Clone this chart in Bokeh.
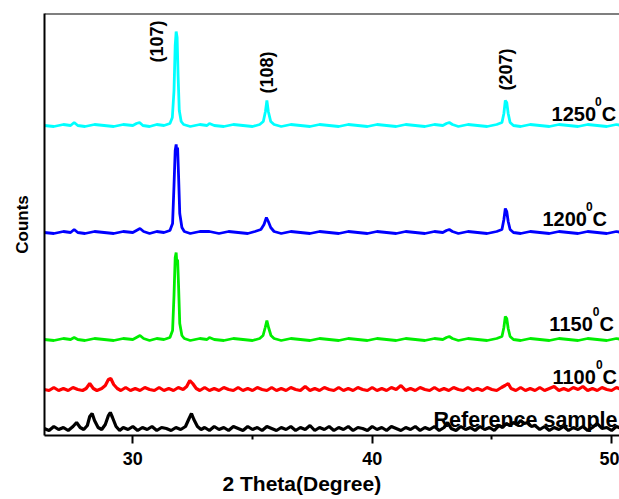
from bokeh.plotting import figure
from bokeh.models import Range1d, FixedTicker, Title, Span
from bokeh.core.properties import value
from bokeh.embed import file_html
from bokeh.resources import INLINE
import math

# ---------------- data (offset-stacked counts) ----------------
s1250 = [(26.3,310),(26.7,309),(27.1,311),(27.4,310),(27.55,313),(27.7,310),(28.0,309),(28.4,311),(28.8,310),(29.2,309),(29.6,311),(30.0,310),(30.15,312),(30.28,313),(30.42,310),(30.7,309),(31.0,311),(31.3,310),(31.55,312),(31.65,318),(31.72,345),(31.77,390),(31.81,404),(31.85,398),(31.89,360),(31.94,325),(32.02,314),(32.12,311),(32.4,309),(32.8,311),(33.1,310),(33.2,312),(33.4,310),(33.8,309),(34.2,311),(34.6,310),(35.0,309),(35.3,311),(35.45,314),(35.54,324),(35.6,335),(35.66,324),(35.76,314),(35.9,311),(36.2,309),(36.6,311),(37.0,310),(37.4,309),(37.8,311),(38.2,310),(38.6,309),(39.0,311),(39.4,310),(39.8,309),(40.2,311),(40.6,310),(41.0,309),(41.4,311),(41.8,310),(42.2,309),(42.6,311),(42.95,310),(43.1,312),(43.22,313),(43.35,311),(43.6,309),(44.0,311),(44.4,310),(44.8,309),(45.2,311),(45.42,313),(45.5,322),(45.56,335),(45.62,333),(45.68,322),(45.76,313),(45.9,310),(46.2,309),(46.6,311),(47.0,310),(47.4,309),(47.8,311),(48.2,310),(48.6,309),(49.0,311),(49.4,310),(49.8,309),(50.2,311),(50.4,310)]

s1200 = [(26.3,203),(26.7,202),(27.1,204),(27.4,203),(27.55,206),(27.7,203),(28.0,202),(28.4,204),(28.8,203),(29.2,202),(29.6,204),(30.0,203),(30.15,205),(30.3,207),(30.45,204),(30.7,202),(31.0,204),(31.3,203),(31.55,205),(31.66,212),(31.72,250),(31.77,285),(31.81,291),(31.84,283),(31.87,288),(31.91,260),(31.96,222),(32.05,208),(32.15,204),(32.4,202),(32.8,204),(33.2,204),(33.6,202),(34.0,204),(34.4,203),(34.8,202),(35.1,204),(35.35,206),(35.48,211),(35.58,218),(35.66,214),(35.76,208),(35.9,204),(36.2,202),(36.6,204),(37.0,203),(37.4,202),(37.8,204),(38.2,203),(38.6,202),(39.0,204),(39.4,203),(39.8,202),(40.2,204),(40.6,203),(41.0,202),(41.4,204),(41.8,203),(42.2,202),(42.6,204),(42.95,203),(43.1,205),(43.22,206),(43.35,204),(43.6,202),(44.0,204),(44.4,203),(44.8,202),(45.2,204),(45.42,206),(45.5,216),(45.56,227),(45.62,224),(45.68,214),(45.76,206),(45.9,203),(46.2,202),(46.6,204),(47.0,203),(47.4,202),(47.8,204),(48.2,203),(48.6,202),(49.0,204),(49.4,203),(49.8,202),(50.2,204),(50.4,203)]

s1150 = [(26.3,96),(26.7,95),(27.1,97),(27.4,96),(27.55,98),(27.7,96),(28.0,95),(28.4,97),(28.8,96),(29.2,95),(29.6,97),(30.0,96),(30.15,98),(30.3,100),(30.45,97),(30.7,95),(31.0,97),(31.3,96),(31.55,98),(31.66,105),(31.72,140),(31.77,178),(31.81,183),(31.84,172),(31.87,176),(31.91,150),(31.96,112),(32.05,100),(32.15,97),(32.4,95),(32.8,97),(33.1,96),(33.2,98),(33.4,96),(33.8,95),(34.2,97),(34.6,96),(35.0,95),(35.3,97),(35.44,100),(35.53,108),(35.6,115),(35.67,108),(35.77,100),(35.9,97),(36.2,95),(36.6,97),(37.0,96),(37.4,95),(37.8,97),(38.2,96),(38.6,95),(39.0,97),(39.4,96),(39.8,95),(40.2,97),(40.6,96),(41.0,95),(41.4,97),(41.8,96),(42.2,95),(42.6,97),(42.95,96),(43.1,98),(43.22,99),(43.35,97),(43.6,95),(44.0,97),(44.4,96),(44.8,95),(45.2,97),(45.42,99),(45.5,108),(45.56,119),(45.62,117),(45.68,107),(45.76,99),(45.9,96),(46.2,95),(46.6,97),(47.0,96),(47.4,95),(47.8,97),(48.2,96),(48.6,95),(49.0,97),(49.4,96),(49.8,95),(50.2,97),(50.4,96)]

s1100 = [(26.3,46),(26.5,45),(26.7,48),(26.9,45),(27.1,47),(27.3,45),(27.5,48),(27.7,46),(27.9,45),(28.05,47),(28.2,52),(28.35,47),(28.5,45),(28.7,47),(28.85,50),(28.98,56),(29.08,57),(29.2,51),(29.35,47),(29.5,45),(29.7,48),(29.9,45),(30.1,47),(30.3,45),(30.5,48),(30.7,46),(30.9,45),(31.1,48),(31.3,45),(31.5,47),(31.7,45),(31.9,48),(32.1,46),(32.25,49),(32.38,55),(32.5,52),(32.65,47),(32.8,45),(33.0,48),(33.2,45),(33.4,47),(33.6,45),(33.8,48),(34.0,46),(34.2,45),(34.4,48),(34.6,45),(34.8,47),(35.0,45),(35.2,48),(35.4,46),(35.6,45),(35.8,48),(36.0,45),(36.2,47),(36.4,45),(36.6,48),(36.8,46),(37.0,45),(37.2,49),(37.4,45),(37.6,47),(37.8,45),(38.0,48),(38.2,46),(38.4,45),(38.6,48),(38.8,45),(39.0,47),(39.2,45),(39.4,48),(39.6,46),(39.8,45),(40.0,48),(40.2,45),(40.4,47),(40.6,45),(40.8,48),(41.0,46),(41.2,50),(41.4,45),(41.6,47),(41.8,45),(42.0,48),(42.2,46),(42.4,45),(42.6,48),(42.8,45),(43.0,47),(43.2,45),(43.4,48),(43.6,46),(43.8,45),(44.0,48),(44.2,45),(44.4,47),(44.6,45),(44.8,48),(45.0,46),(45.2,45),(45.4,48),(45.55,50),(45.68,52),(45.8,47),(46.0,45),(46.2,48),(46.4,45),(46.6,47),(46.8,45),(47.0,48),(47.2,45),(47.4,47),(47.6,49),(47.8,45),(48.0,47),(48.2,45),(48.4,48),(48.6,46),(48.8,49),(49.0,45),(49.2,47),(49.4,45),(49.6,48),(49.8,46),(50.0,45),(50.2,48),(50.4,46)]

s_ref = [(26.3,7),(26.5,5),(26.7,9),(26.9,6),(27.1,8),(27.3,5),(27.5,9),(27.65,13),(27.8,8),(27.95,6),(28.1,10),(28.2,19),(28.3,22),(28.4,15),(28.55,8),(28.7,6),(28.85,11),(28.98,20),(29.06,23),(29.15,18),(29.3,9),(29.45,5),(29.6,8),(29.8,6),(30.0,9),(30.2,5),(30.4,8),(30.6,6),(30.8,9),(31.0,5),(31.2,8),(31.4,7),(31.6,5),(31.8,8),(32.0,6),(32.2,9),(32.35,17),(32.45,22),(32.55,16),(32.7,9),(32.85,6),(33.0,8),(33.2,5),(33.4,9),(33.6,6),(33.8,8),(34.0,5),(34.2,9),(34.4,7),(34.6,5),(34.8,9),(35.0,6),(35.2,8),(35.4,5),(35.6,9),(35.8,7),(36.0,5),(36.2,8),(36.4,6),(36.6,9),(36.8,5),(37.0,8),(37.2,6),(37.4,10),(37.6,5),(37.8,8),(38.0,6),(38.2,9),(38.4,5),(38.6,8),(38.8,6),(39.0,9),(39.2,5),(39.4,8),(39.6,7),(39.8,5),(40.0,9),(40.2,6),(40.4,8),(40.6,5),(40.8,9),(41.0,7),(41.2,5),(41.4,8),(41.6,6),(41.8,9),(42.0,5),(42.2,8),(42.4,6),(42.6,9),(42.8,5),(43.0,8),(43.15,13),(43.3,7),(43.5,5),(43.7,9),(43.9,6),(44.1,8),(44.3,5),(44.5,9),(44.7,6),(44.9,8),(45.1,5),(45.3,10),(45.45,8),(45.6,12),(45.75,10),(45.9,13),(46.05,11),(46.2,15),(46.35,12),(46.5,13),(46.65,9),(46.8,10),(47.0,6),(47.2,9),(47.4,5),(47.6,8),(47.8,6),(48.0,9),(48.2,5),(48.4,8),(48.6,6),(48.8,9),(49.0,5),(49.2,8),(49.4,12),(49.6,7),(49.8,8),(50.0,5),(50.2,9),(50.4,7)]

series = [s_ref, s1100, s1150, s1200, s1250]
series_colors = ["#000000", "#FF0000", "#00EE00", "#0000FF", "#00FFFF"]
series_widths = [3.2, 3.2, 2.8, 2.8, 2.8]

temps = ["1100", "1150", "1200", "1250"]
temp_x = [47.53, 47.40, 47.11, 47.49]
temp_y = [59, 112, 217, 322]
ref_label = "Reference sample"
ref_x, ref_y = 42.56, 16

hkl = ["(107)", "(108)", "(207)"]
hkl_x = [31.03, 35.62, 45.57]
hkl_y = [394, 363, 366]

x_major = [30, 40, 50]
x_minor = [35, 45]

FONT = "Liberation Sans"

# ---------------- figure ----------------
p = figure(width=619, height=499, output_backend="svg", toolbar_location=None,
           x_range=Range1d(26.31, 50.33), y_range=Range1d(0, 422),
           min_border_left=44, min_border_right=0, min_border_top=13, min_border_bottom=64)
p.outline_line_color = None
p.grid.visible = False
p.background_fill_color = "white"
p.border_fill_color = "white"

for s, c, w in zip(series, series_colors, series_widths):
    xs = [a for a, b in s]
    ys = [b for a, b in s]
    p.line(xs, ys, line_color=c, line_width=w)

# top border line
p.add_layout(Span(location=422, dimension="width", line_color="black", line_width=2))

# x axis
xa = p.xaxis[0]
xa.ticker = FixedTicker(ticks=x_major, minor_ticks=x_minor)
xa.axis_line_width = 2
xa.axis_line_color = "black"
xa.major_tick_line_width = 2
xa.minor_tick_line_width = 2
xa.major_tick_in = 0
xa.major_tick_out = 8
xa.minor_tick_in = 0
xa.minor_tick_out = 4
xa.major_label_standoff = 8
xa.major_label_text_font = FONT
xa.major_label_text_font_style = "bold"
xa.major_label_text_font_size = "18px"
xa.major_label_text_color = "black"

# y axis
ya = p.yaxis[0]
ya.ticker = FixedTicker(ticks=[])
ya.axis_line_width = 2
ya.axis_line_color = "black"
ya.major_tick_line_color = None
ya.minor_tick_line_color = None
ya.major_tick_out = 0
ya.major_label_text_font_size = "0px"
ya.axis_label = "Counts"
ya.axis_label_text_font = FONT
ya.axis_label_text_font_style = "bold"
ya.axis_label_text_font_size = "17px"
ya.axis_label_text_color = "black"
ya.axis_label_standoff = 13

# x axis title (offset like the original)
p.add_layout(Title(text="2 Theta(Degree)", align="left", offset=178, standoff=4,
                   text_font=FONT, text_font_style="bold", text_font_size="21px",
                   text_color="black"), "below")

# temperature labels with superscript 0
num_w = 0.556 * 20
p.text(x=temp_x, y=temp_y, text=temps, text_font=value(FONT), text_font_style="bold",
       text_font_size="20px", text_baseline="alphabetic", text_align="left", text_color="black")
p.text(x=temp_x, y=temp_y, text=["0"] * len(temps), text_font=value(FONT), text_font_style="bold",
       text_font_size="12px", text_baseline="alphabetic", text_align="left", text_color="black",
       x_offset=[len(t) * num_w - 1 for t in temps], y_offset=-12)
p.text(x=temp_x, y=temp_y, text=["C"] * len(temps), text_font=value(FONT), text_font_style="bold",
       text_font_size="20px", text_baseline="alphabetic", text_align="left", text_color="black",
       x_offset=[len(t) * num_w + 0.556 * 12 - 1 for t in temps])
p.text(x=[ref_x], y=[ref_y], text=[ref_label], text_font=value(FONT), text_font_style="bold",
       text_font_size="21.5px", text_baseline="alphabetic", text_align="left", text_color="black")

# hkl labels (rotated)
p.text(x=hkl_x, y=hkl_y, text=hkl, angle=math.pi / 2, text_font=value(FONT), text_font_style="bold",
       text_font_size="18px", text_baseline="middle", text_align="center", text_color="black")

open("out.html", "w").write(file_html(p, INLINE))
